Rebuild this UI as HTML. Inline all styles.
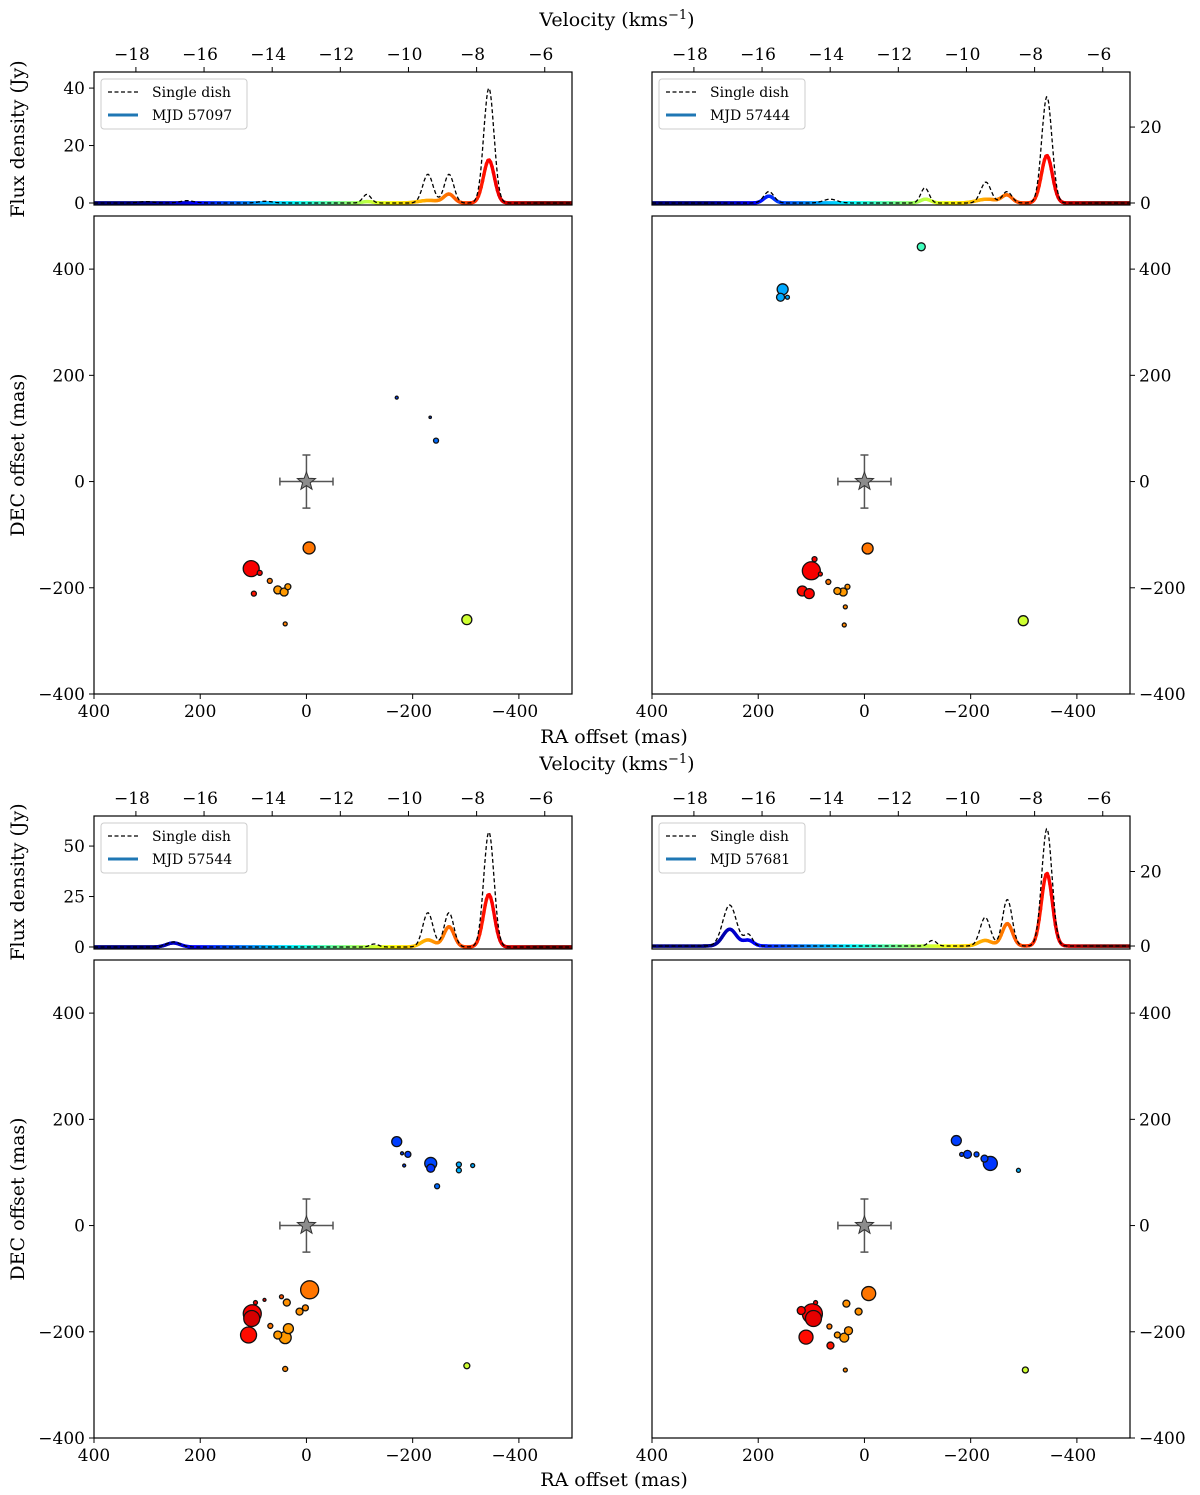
<!DOCTYPE html>
<html><head><meta charset="utf-8"><style>
body{margin:0;background:#fff}
svg{display:block;font-family:"DejaVu Serif","Liberation Serif",serif}
</style></head><body>
<svg id="fig" width="1200" height="1495" xmlns="http://www.w3.org/2000/svg"></svg>
<script>
// ---- data ----
const velTicks=[-18,-16,-14,-12,-10,-8,-6];
const raTicks=[400,200,0,-200,-400];
const decTicks=[-400,-200,0,200,400];
const fluxTicks1=[0,20,40], fluxTicks2=[0,20], fluxTicks3=[0,25,50], fluxTicks4=[0,20];
const epochs=["MJD 57097","MJD 57444","MJD 57544","MJD 57681"];
// spectral components: [velocity, amplitude(Jy), sigma]
const sd1=[[-7.64,40,0.15],[-8.81,10,0.14],[-9.43,10,0.15],[-11.22,3,0.12],[-14.2,0.6,0.2],[-16.5,0.8,0.2],[-17.7,0.5,0.2]];
const mj1=[[-7.64,15,0.16],[-8.81,3,0.15],[-9.4,0.9,0.3],[-11.2,0.5,0.15]];
const sd2=[[-7.64,28,0.15],[-8.81,3,0.14],[-9.43,5.5,0.15],[-11.22,4,0.12],[-14.0,1,0.2],[-15.8,3,0.15]];
const mj2=[[-7.64,12.5,0.16],[-8.81,2,0.15],[-9.4,1,0.3],[-11.2,1,0.15],[-15.8,1.8,0.15]];
const sd3=[[-7.64,57,0.15],[-8.81,17,0.14],[-9.43,17,0.15],[-11.0,1.5,0.12],[-16.9,2.5,0.2]];
const mj3=[[-7.64,26,0.16],[-8.81,10,0.15],[-9.43,3.5,0.2],[-16.9,2,0.2]];
const sd4=[[-7.64,31.5,0.15],[-8.8,12.5,0.14],[-9.45,7.7,0.15],[-11.0,1.5,0.12],[-16.95,11,0.2],[-16.4,3,0.12]];
const mj4=[[-7.64,19.5,0.16],[-8.8,6,0.15],[-9.45,1.5,0.2],[-16.95,4.5,0.2],[-16.4,1.5,0.15]];
// maser spots: [RA mas, DEC mas, velocity, radius px]
const pts1=[[104,-164,-7.5,8],[88,-172,-7.6,2.5],[69,-187,-8.9,2.5],[99,-211,-7.8,2.5],[54,-204,-9.3,4],[42,-208,-9.3,4],[35,-198,-9.3,3],[40,-268,-9.0,2],[-5,-125,-8.9,6],[-302,-260,-11.0,5],[-170,158,-15.5,1.5],[-233,121,-15.5,1.2],[-244,77,-15.0,2.5]];
const pts2=[[100,-168,-7.5,9],[94,-146,-7.6,2.5],[83,-174,-7.7,2],[117,-206,-7.7,5],[104,-211,-7.6,5],[68,-189,-8.9,2.5],[51,-206,-9.3,3.5],[40,-208,-9.3,4],[32,-198,-9.2,2.5],[36,-236,-9.1,2],[38,-270,-9.1,2],[-6,-126,-8.9,5.5],[-299,-262,-11.0,5],[-107,442,-12.6,4],[154,362,-14.3,5.5],[158,347,-14.3,4],[145,347,-14.3,2]];
const pts3=[[102,-166,-7.5,9],[103,-175,-7.1,8],[96,-145,-7.6,2],[79,-140,-7.6,1.5],[109,-206,-7.7,8],[68,-189,-8.9,2.5],[47,-134,-8.5,2],[37,-145,-9.2,3.5],[-6,-121,-8.9,9],[2,-155,-9.1,3],[13,-162,-9.2,3.5],[54,-206,-9.3,4],[34,-194,-9.3,5],[40,-211,-9.3,6],[40,-270,-9.1,2.5],[-302,-264,-11.0,3],[-170,158,-15.5,5],[-191,134,-15.5,3],[-180,136,-15.5,1.5],[-184,113,-15.5,1.5],[-234,117,-15.4,6],[-234,108,-15.6,4],[-287,115,-14.3,2.5],[-287,104,-14.2,2.5],[-313,113,-14.3,2],[-246,74,-15.0,2.5]];
const pts4=[[98,-166,-7.5,10],[96,-175,-7.3,8],[92,-145,-7.6,2],[119,-160,-7.6,4],[110,-210,-7.7,7],[64,-226,-7.8,3.5],[66,-190,-8.9,2.5],[34,-147,-9.2,3.5],[11,-162,-9.2,3.5],[-8,-128,-8.9,7],[51,-206,-9.3,3],[38,-211,-9.3,4.5],[30,-198,-9.2,4],[36,-272,-9.1,2],[-303,-272,-11.0,3],[-173,160,-15.5,5],[-183,134,-15.5,2],[-194,134,-15.5,4],[-211,134,-15.4,2.5],[-226,126,-15.5,3.5],[-237,117,-15.6,7],[-290,104,-14.2,2]];

// ---- helpers ----
const NS="http://www.w3.org/2000/svg";
const svg=document.getElementById('fig');
function mk(tag,attrs,parent){const e=document.createElementNS(NS,tag);for(const k in attrs)e.setAttribute(k,attrs[k]);(parent||svg).appendChild(e);return e;}
function txt(s,x,y,anchor,size,parent,rot){const t=mk('text',{x:x,y:y,'text-anchor':anchor,'font-size':size,fill:'#000'},parent);if(rot)t.setAttribute('transform',`rotate(-90 ${x} ${y})`);t.textContent=s;return t;}
function fmt(v){return v<0?'\u2212'+Math.abs(v):String(v);}
function jet(t){t=Math.max(0,Math.min(1,t));const c=x=>Math.round(255*Math.max(0,Math.min(1,x)));
 const r=Math.min(4*t-1.5,-4*t+4.5),g=Math.min(4*t-0.5,-4*t+3.5),b=Math.min(4*t+0.5,-4*t+2.5);return `rgb(${c(r)},${c(g)},${c(b)})`;}
const AX_VMIN=-19.23,AX_VMAX=-5.2;
const CMIN=-17.64,CMAX=-6.14;
function vcol(v){return jet((v-CMIN)/(CMAX-CMIN));}
function spec(comps,v){let s=0;for(const c of comps)s+=c[1]*Math.exp(-0.5*((v-c[0])/c[2])**2);return s;}

const cols=[94,652], W=478;
const panels=[
 {c:0,sy:72,qy:216,sd:sd1,mj:mj1,pts:pts1,ft:fluxTicks1,fr:[-0.7,45.6],label:epochs[0]},
 {c:1,sy:72,qy:216,sd:sd2,mj:mj2,pts:pts2,ft:fluxTicks2,fr:[-0.53,34.5],label:epochs[1]},
 {c:0,sy:816,qy:960,sd:sd3,mj:mj3,pts:pts3,ft:fluxTicks3,fr:[-1,64.9],label:epochs[2]},
 {c:1,sy:816,qy:960,sd:sd4,mj:mj4,pts:pts4,ft:fluxTicks4,fr:[-0.8,34.9],label:epochs[3]}];

panels.forEach((p,i)=>{
 const x0=cols[p.c], right=p.c===1, SH=133, QH=478;
 const vx=v=>x0+(v-AX_VMIN)/(AX_VMAX-AX_VMIN)*W;
 const fy=f=>p.sy+SH-(f-p.fr[0])/(p.fr[1]-p.fr[0])*SH;
 const rx=r=>x0+(400-r)/900*W;
 const dy=d=>p.qy+QH-(d+400)/900*QH;
 const g=mk('g',{});
 const clipId='c'+i;const cp=mk('clipPath',{id:clipId},g);mk('rect',{x:x0,y:p.sy,width:W,height:SH},cp);
 const lines=mk('g',{'clip-path':`url(#${clipId})`},g);
 for(let v=AX_VMIN;v<AX_VMAX;v+=0.04){
  const s=mk('line',{x1:vx(v),y1:fy(spec(p.mj,v)),x2:vx(v+0.045),y2:fy(spec(p.mj,v+0.045)),stroke:vcol(v),'stroke-width':3.4,'stroke-linecap':'round'},lines);
  
  
 }
 let d='';for(let v=AX_VMIN;v<=AX_VMAX;v+=0.03){d+=(d?'L':'M')+vx(v).toFixed(1)+','+fy(spec(p.sd,v)).toFixed(1);}
 const sdp=mk('path',{d:d,fill:'none',stroke:'#000','stroke-width':1.3,'stroke-dasharray':'4,2.5'},lines);
 
 mk('rect',{x:x0,y:p.sy,width:W,height:SH,fill:'none',stroke:'#000','stroke-width':1.2},g);
 velTicks.forEach(v=>{const x=vx(v);mk('line',{x1:x,y1:p.sy,x2:x,y2:p.sy-5,stroke:'#000'},g);const t=txt(fmt(v),x-4,p.sy-12,'middle',17,g);});
 p.ft.forEach(f=>{const y=fy(f);if(right){mk('line',{x1:x0+W,y1:y,x2:x0+W+5,y2:y,stroke:'#000'},g);txt(String(f),x0+W+10,y+6,'start',17,g);}else{mk('line',{x1:x0,y1:y,x2:x0-5,y2:y,stroke:'#000'},g);txt(String(f),x0-9,y+6,'end',17,g);}});
 const lg=mk('g',{},g);
 mk('rect',{x:x0+7,y:p.sy+7,width:146,height:50,rx:3,fill:'#fff',stroke:'#ccc','stroke-width':1},lg);
 mk('line',{x1:x0+14,y1:p.sy+20,x2:x0+44,y2:p.sy+20,stroke:'#000','stroke-width':1.3,'stroke-dasharray':'4,2.5'},lg);
 txt('Single dish',x0+58,p.sy+25,'start',14,lg);
 mk('line',{x1:x0+14,y1:p.sy+43,x2:x0+44,y2:p.sy+43,stroke:'#1f77b4','stroke-width':3},lg);
 txt(p.label,x0+58,p.sy+48,'start',14,lg);
 const q=mk('g',{});
 mk('rect',{x:x0,y:p.qy,width:W,height:QH,fill:'#fff',stroke:'#000','stroke-width':1.2},q);
 raTicks.forEach(r=>{const x=rx(r);mk('line',{x1:x,y1:p.qy+QH,x2:x,y2:p.qy+QH+5,stroke:'#000'},q);txt(fmt(r),x-(r<0?4:0),p.qy+QH+23,'middle',17,q);});
 decTicks.forEach(dd=>{const y=dy(dd);if(right){mk('line',{x1:x0+W,y1:y,x2:x0+W+5,y2:y,stroke:'#000'},q);txt(fmt(dd),x0+W+9,y+6,'start',17,q);}else{mk('line',{x1:x0,y1:y,x2:x0-5,y2:y,stroke:'#000'},q);txt(fmt(dd),x0-9,y+6,'end',17,q);}});
 const sx=rx(0),sy=dy(0),ex=rx(-50)-sx,ey=sy-dy(50);
 const eb=mk('g',{stroke:'#555','stroke-width':1.5},q);
 mk('line',{x1:sx-ex,y1:sy,x2:sx+ex,y2:sy},eb);mk('line',{x1:sx,y1:sy-ey,x2:sx,y2:sy+ey},eb);
 mk('line',{x1:sx-ex,y1:sy-4,x2:sx-ex,y2:sy+4},eb);mk('line',{x1:sx+ex,y1:sy-4,x2:sx+ex,y2:sy+4},eb);
 mk('line',{x1:sx-4,y1:sy-ey,x2:sx+4,y2:sy-ey},eb);mk('line',{x1:sx-4,y1:sy+ey,x2:sx+4,y2:sy+ey},eb);
 let sp='';for(let k=0;k<10;k++){const a=-Math.PI/2+k*Math.PI/5,rr=k%2?4:9.5;sp+=(k?'L':'M')+(sx+rr*Math.cos(a)).toFixed(1)+','+(sy+rr*Math.sin(a)).toFixed(1);}
 const st=mk('path',{d:sp+'Z',fill:'#8c8c8c',stroke:'#333','stroke-width':1},q);
 const sorted=p.pts.slice().sort((a,b)=>b[3]-a[3]);
 sorted.forEach(pt=>{const c=mk('circle',{cx:rx(pt[0]),cy:dy(pt[1]),r:pt[3],fill:vcol(pt[2]),stroke:'#111','stroke-width':1.3},q);
  
  });
});
[[617,26],[617,770]].forEach(a=>{const t=txt('',a[0],a[1],'middle',19);t.innerHTML='Velocity (kms<tspan dy="-7" font-size="13">\u22121</tspan><tspan dy="7">)</tspan>';});
[[614,743],[614,1486]].forEach(a=>{const t=txt('RA offset (mas)',a[0],a[1],'middle',19);});
[[24,139],[24,882]].forEach(a=>{const t=txt('Flux density (Jy)',a[0],a[1],'middle',19,null,true);});
[[24,455],[24,1199]].forEach(a=>{const t=txt('DEC offset (mas)',a[0],a[1],'middle',19,null,true);});
</script>
</body></html>
